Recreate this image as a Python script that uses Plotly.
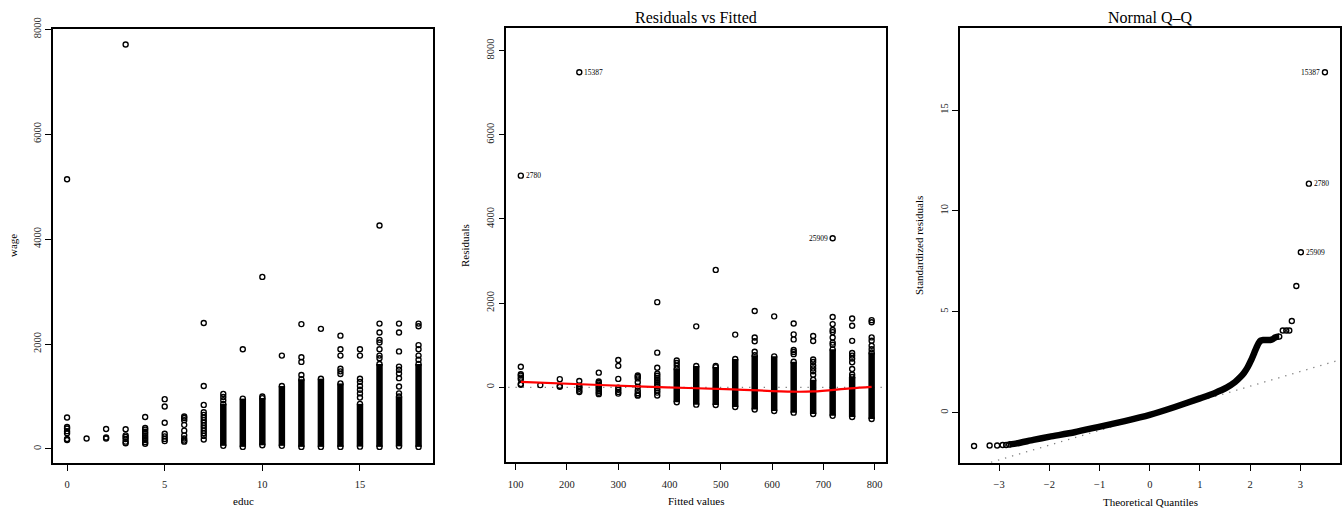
import plotly.graph_objects as go

W, H = 1342, 512
FONT = "Liberation Serif"

# ---------------- Panel 1 data: wage vs educ ----------------
pt_educ = ([0]*8 + [1] + [2]*3 + [3]*7 + [4]*10 + [5]*7 + [6]*9 + [7]*14 + [8]*3 + [9] + [10]*2 +
           [11] + [12]*4 + [13] + [14]*6 + [15]*8 + [16]*8 + [17]*9 + [18]*6)
pt_wage = ([5140, 600, 420, 390, 340, 300, 190, 170] +
           [200] +
           [380, 220, 200] +
           [7710, 375, 260, 230, 190, 140, 110] +
           [610, 400, 370, 330, 290, 250, 210, 170, 130, 100] +
           [950, 810, 500, 290, 240, 190, 150] +
           [620, 590, 550, 460, 350, 260, 200, 160, 140] +
           [2400, 1200, 840, 700, 650, 600, 550, 500, 450, 400, 350, 300, 250, 180] +
           [1050, 990, 930] +
           [1900] +
           [3280, 1000] +
           [1780] +
           [2380, 1750, 1660, 1410] +
           [2290] +
           [2160, 1900, 1780, 1530, 1480, 1430] +
           [1900, 1780, 1340, 1280, 1200, 1130, 1060, 980] +
           [4260, 2390, 2220, 2080, 2030, 1900, 1780, 1730] +
           [2390, 2220, 1860, 1570, 1510, 1440, 1350, 1190, 1060] +
           [2390, 2340, 1980, 1900, 1780, 1700])

# dense columns of overlapping points (low / high wage of the solid band)
band_educ = [8, 9, 10, 11, 12, 13, 14, 15, 16, 17, 18]
band_low = [60, 40, 70, 60, 40, 40, 40, 45, 40, 50, 40]
band_high = [860, 960, 970, 1200, 1330, 1340, 1250, 860, 1620, 1000, 1620]

# ---------------- Panel 2: fitted line coefficients & lowess ----------------
fit_intercept = 110.0
fit_slope = 38.0
lowess_x = [110, 264, 394, 524, 640, 680, 752, 794]
lowess_y = [130, 55, 0, -48, -104, -98, -24, 12]
rvf_labels = ["15387", "2780", "25909"]
rvf_label_educ = [3, 0, 16]
rvf_label_wage = [7710, 5140, 4260]
rvf_label_side = ["right", "right", "left"]

# ---------------- Panel 3: Normal Q-Q ----------------
qq_pts_x = [-3.50, -3.19, -3.04, -2.93, -2.86, 2.65, 2.72, 2.78, 2.83, 2.92, 3.01, 3.17, 3.49]
qq_pts_y = [-1.65, -1.63, -1.63, -1.60, -1.60, 4.07, 4.07, 4.07, 4.54, 6.28, 7.95, 11.35, 16.87]
qq_curve_x = [-2.80, -2.65, -2.32, -1.99, -1.5, -0.99, -0.5, 0.0, 0.5, 1.0, 1.3, 1.53, 1.70, 1.80,
              1.88, 1.95, 2.02, 2.08, 2.13, 2.17, 2.21, 2.26, 2.32, 2.40, 2.45, 2.49, 2.53, 2.58]
qq_curve_y = [-1.58, -1.52, -1.35, -1.19, -0.97, -0.69, -0.42, -0.11, 0.28, 0.71, 0.98, 1.24, 1.52, 1.75,
              1.98, 2.25, 2.60, 2.95, 3.25, 3.45, 3.57, 3.60, 3.60, 3.60, 3.64, 3.72, 3.76, 3.77]
qq_line_x = [-4.0, 4.0]
qq_line_y = [-3.07, 2.77]
qq_labels = ["15387", "2780", "25909"]
qq_label_x = [3.49, 3.17, 3.01]
qq_label_y = [16.87, 11.35, 7.95]
qq_label_side = ["left", "right", "right"]

# derived residuals
def fitted(e):
    return fit_intercept + fit_slope * e

pt_fit = [fitted(e) for e in pt_educ]
pt_res = [w - f for w, f in zip(pt_wage, pt_fit)]
band_fit = [fitted(e) for e in band_educ]

MK = dict(symbol="circle-open", size=5, color="black", line=dict(width=1.4, color="black"))
BAND_W = 6.5
DOT = dict(color="#808080", width=1.3, dash="1.3px,6px")

fig = go.Figure()

def add_bands(xs, lows, highs, xa, ya):
    bx, by = [], []
    ex, ey = [], []
    for x, lo, hi in zip(xs, lows, highs):
        bx += [x, x, None]
        by += [lo, hi, None]
        ex += [x, x]
        ey += [lo, hi]
    fig.add_trace(go.Scatter(x=bx, y=by, mode="lines", line=dict(color="black", width=BAND_W),
                             xaxis=xa, yaxis=ya, showlegend=False, hoverinfo="skip"))
    fig.add_trace(go.Scatter(x=ex, y=ey, mode="markers", marker=MK,
                             xaxis=xa, yaxis=ya, showlegend=False, hoverinfo="skip"))

# Panel 1
add_bands(band_educ, band_low, band_high, "x", "y")
fig.add_trace(go.Scatter(x=pt_educ, y=pt_wage, mode="markers", marker=MK,
                         xaxis="x", yaxis="y", showlegend=False))

# Panel 2
fig.add_trace(go.Scatter(x=[0, 1000], y=[0, 0], mode="lines", line=DOT,
                         xaxis="x2", yaxis="y2", showlegend=False, hoverinfo="skip"))
add_bands(band_fit, [l - f for l, f in zip(band_low, band_fit)],
          [h - f for h, f in zip(band_high, band_fit)], "x2", "y2")
fig.add_trace(go.Scatter(x=pt_fit, y=pt_res, mode="markers", marker=MK,
                         xaxis="x2", yaxis="y2", showlegend=False))
fig.add_trace(go.Scatter(x=lowess_x, y=lowess_y, mode="lines", line=dict(color="red", width=2.2, shape="spline"),
                         xaxis="x2", yaxis="y2", showlegend=False))

# Panel 3
fig.add_trace(go.Scatter(x=qq_line_x, y=qq_line_y, mode="lines", line=DOT,
                         xaxis="x3", yaxis="y3", showlegend=False, hoverinfo="skip"))
fig.add_trace(go.Scatter(x=qq_curve_x, y=qq_curve_y, mode="lines",
                         line=dict(color="black", width=6.5, shape="spline", smoothing=0.6),
                         xaxis="x3", yaxis="y3", showlegend=False, hoverinfo="skip"))
fig.add_trace(go.Scatter(x=[qq_curve_x[0], qq_curve_x[-1]], y=[qq_curve_y[0], qq_curve_y[-1]],
                         mode="markers", marker=MK,
                         xaxis="x3", yaxis="y3", showlegend=False, hoverinfo="skip"))
fig.add_trace(go.Scatter(x=qq_pts_x, y=qq_pts_y, mode="markers", marker=MK,
                         xaxis="x3", yaxis="y3", showlegend=False))

# point labels
def point_label(text, x, y, side, xa, ya):
    fig.add_annotation(text=text, x=x, y=y, xref=xa, yref=ya, showarrow=False,
                       xanchor="left" if side == "right" else "right", yanchor="middle",
                       xshift=3 if side == "right" else -3,
                       font=dict(family=FONT, size=7.5, color="black"))

for t, e, w, s in zip(rvf_labels, rvf_label_educ, rvf_label_wage, rvf_label_side):
    point_label(t, fitted(e), w - fitted(e), s, "x2", "y2")
for t, x, y, s in zip(qq_labels, qq_label_x, qq_label_y, qq_label_side):
    point_label(t, x, y, s, "x3", "y3")

def px_x(p):
    return p / W

def px_y(p):
    return 1 - p / H

axis_common = dict(showline=True, mirror=True, linecolor="black", linewidth=1.6,
                   ticks="outside", ticklen=6, tickwidth=1, tickcolor="black",
                   showgrid=False, zeroline=False, automargin=False,
                   tickfont=dict(family=FONT, size=10.5, color="#222"))

xt1 = [0, 5, 10, 15]
yt1 = [0, 2000, 4000, 6000, 8000]
xt2 = [100, 200, 300, 400, 500, 600, 700, 800]
yt2 = [0, 2000, 4000, 6000, 8000]
xt3 = [-3, -2, -1, 0, 1, 2, 3]
yt3 = [0, 5, 10, 15]

def lab(v):
    return str(v).replace("-", "\u2212")

fig.update_layout(
    width=W, height=H, margin=dict(l=0, r=0, t=0, b=0, autoexpand=False),
    paper_bgcolor="white", plot_bgcolor="white",
    showlegend=False,
    xaxis=dict(domain=[px_x(53), px_x(433)], range=[-0.72, 18.74], anchor="y",
               tickvals=xt1, ticktext=[lab(v) for v in xt1], ticklabelstandoff=5, **axis_common),
    yaxis=dict(domain=[px_y(463), px_y(29)], range=[-267, 8005], anchor="x",
               tickvals=yt1, ticktext=[lab(v) for v in yt1], tickangle=-90, **axis_common),
    xaxis2=dict(domain=[px_x(506.3), px_x(886)], range=[81.7, 822], anchor="y2",
                tickvals=xt2, ticktext=[lab(v) for v in xt2], ticklabelstandoff=5, **axis_common),
    yaxis2=dict(domain=[px_y(462.3), px_y(28.3)], range=[-1782, 8531], anchor="x2",
                tickvals=yt2, ticktext=[lab(v) for v in yt2], tickangle=-90, **axis_common),
    xaxis3=dict(domain=[px_x(960), px_x(1339.5)], range=[-3.78, 3.78], anchor="y3",
                tickvals=xt3, ticktext=[lab(v) for v in xt3], ticklabelstandoff=5, **axis_common),
    yaxis3=dict(domain=[px_y(462.7), px_y(28.3)], range=[-2.48, 19.05], anchor="x3",
                tickvals=yt3, ticktext=[lab(v) for v in yt3], tickangle=-90, **axis_common),
)

def annot(text, x, y, size, angle=0):
    fig.add_annotation(text=text, x=px_x(x), y=px_y(y), xref="paper", yref="paper",
                       showarrow=False, textangle=angle, xanchor="center", yanchor="middle",
                       font=dict(family=FONT, size=size, color="black"))

annot("Residuals vs Fitted", 696, 17, 16)
annot("Normal Q\u2013Q", 1150, 17, 16)
annot("educ", 243, 501, 11)
annot("Fitted values", 696, 501, 11)
annot("Theoretical Quantiles", 1150, 502, 11)
annot("wage", 13, 246, 11, -90)
annot("Residuals", 465, 246, 11, -90)
annot("Standardized residuals", 919, 246, 11, -90)

fig.write_html("out.html")
